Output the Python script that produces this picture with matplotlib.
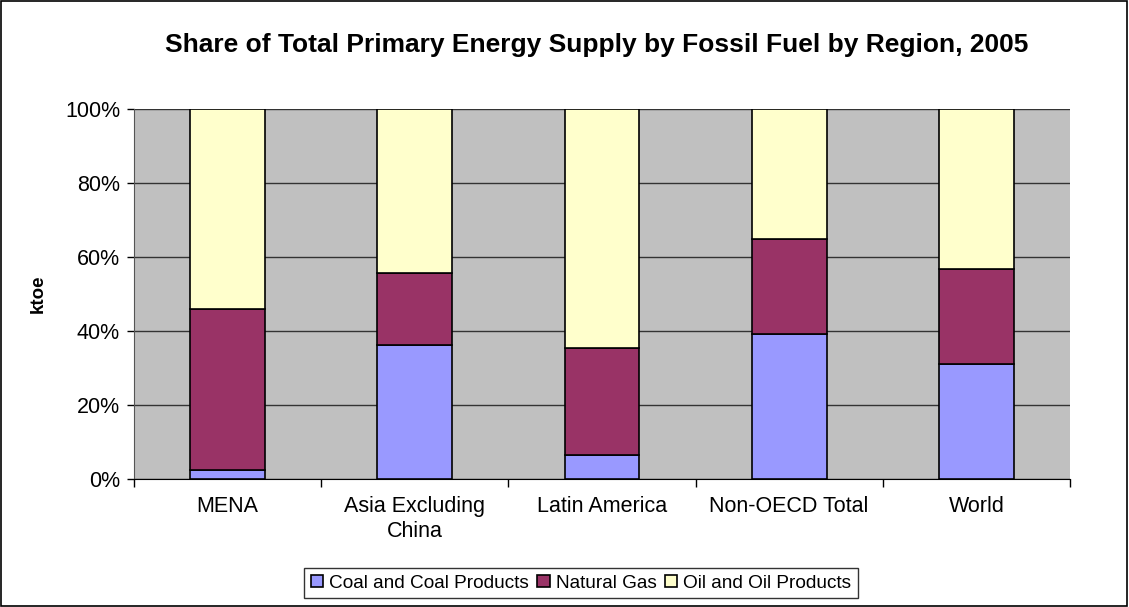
import matplotlib
matplotlib.use("Agg")
import matplotlib.pyplot as plt
from matplotlib.patches import Rectangle
import numpy as np

plt.rcParams['font.family'] = ['Liberation Sans', 'DejaVu Sans']

categories = ["MENA", "Asia Excluding\nChina", "Latin America", "Non-OECD Total", "World"]
coal = [2.4, 36.3, 6.5, 39.2, 31.1]
gas = [43.5, 19.4, 29.0, 25.7, 25.7]
oil = [54.1, 44.3, 64.5, 35.1, 43.2]
series_names = ["Coal and Coal Products", "Natural Gas", "Oil and Oil Products"]
colors = ["#9999FF", "#993366", "#FFFFCC"]
yticks = [0, 20, 40, 60, 80, 100]
ytick_labels = ["0%", "20%", "40%", "60%", "80%", "100%"]

fig = plt.figure(figsize=(11.29, 6.07), dpi=100)
ax = fig.add_axes([0.1187, 0.2109, 0.9477 - 0.1187, 0.8204 - 0.2109])
ax.set_facecolor("#C0C0C0")

x = np.arange(len(categories))
bottom = np.zeros(len(categories))
for vals, name, c in zip([coal, gas, oil], series_names, colors):
    ax.bar(x, vals, width=0.4, bottom=bottom, color=c, edgecolor="black",
           linewidth=1.2, label=name, zorder=3)
    bottom += np.array(vals)

ax.set_xlim(-0.5, len(categories) - 0.5)
ax.set_ylim(0, 100)
ax.set_yticks(yticks)
ax.set_yticklabels(ytick_labels, fontsize=15.5)
ax.yaxis.grid(True, color="#333333", linewidth=1, zorder=1)
ax.set_axisbelow(True)
ax.set_xticks(x)
ax.set_xticklabels(categories, fontsize=15.5, linespacing=1.3)
ax.tick_params(axis='x', length=0, pad=12)
ax.set_xticks(np.arange(-0.5, len(categories)), minor=True)
ax.tick_params(axis='x', which='minor', length=6, color="black", width=1)
ax.tick_params(axis='y', length=5, color="black", width=1, pad=5)

for s in ["top", "right"]:
    ax.spines[s].set_visible(False)
ax.spines["left"].set_color("#555555")
ax.spines["bottom"].set_color("black")

ax.set_ylabel("ktoe", fontsize=13.5, fontweight="bold", labelpad=13)
fig.text(597 / 1129, 1 - 52 / 607, "Share of Total Primary Energy Supply by Fossil Fuel by Region, 2005",
         ha="center", va="baseline", fontsize=19, fontweight="bold")

leg = fig.legend(loc="center", bbox_to_anchor=(0.5146, 0.0395), ncol=3, fontsize=13.7,
                 frameon=True, fancybox=False, edgecolor="black", handlelength=0.65,
                 handleheight=0.65, handletextpad=0.3, columnspacing=0.45, borderpad=0.35,
                 borderaxespad=0)
leg.get_frame().set_linewidth(1)

fig.patches.append(Rectangle((0.001, 0.001), 0.997, 0.997, transform=fig.transFigure,
                             fill=False, edgecolor="black", linewidth=1.2))

fig.savefig("out.png", dpi=100)
